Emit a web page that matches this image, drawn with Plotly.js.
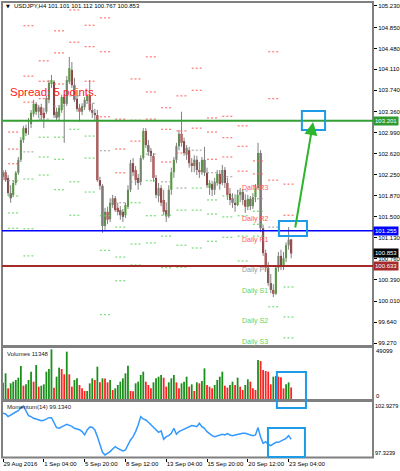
<!DOCTYPE html>
<html><head><meta charset="utf-8">
<script src="https://cdn.plot.ly/plotly-3.0.1.min.js"></script>
<style>html,body{margin:0;padding:0;background:#fff;overflow:hidden}#chart{width:400px;height:471px}</style>
</head><body><div id="chart"></div>
<script>
// ---------------- DATA ----------------
const chartTitle = "USDJPY,H4 101.101 101.112 100.767 100.853";
const spreadText = "Spread: 5 points.";
const volumeLabel = "Volumes 11348";
const momentumLabel = "Momentum(14) 99.1340";
const xTickIdx = [0,16,32,48,64,80,96,112];
const xTickText = ["29 Aug 2016","1 Sep 04:00","5 Sep 20:00","8 Sep 12:00","13 Sep 04:00","15 Sep 20:00","20 Sep 12:00","23 Sep 04:00"];
const priceTicks = [105.230,104.850,104.480,104.110,103.740,103.360,102.990,102.620,102.250,101.870,101.500,101.130,100.760,100.390,100.010,99.640,99.270];

const openP = [102.21,102.29,102.19,101.92,101.89,102.10,102.28,102.51,102.86,103.07,
103.18,103.14,103.32,103.50,103.36,103.44,103.34,103.36,103.57,103.85,
103.89,103.36,103.27,103.39,103.62,103.50,103.89,104.10,103.83,103.59,
103.43,103.36,103.44,103.55,103.64,103.39,103.34,103.30,102.15,102.05,
101.34,101.59,101.46,101.71,101.83,101.66,101.62,101.59,101.53,101.68,
101.98,102.45,102.33,102.19,102.12,102.54,103.02,102.77,102.67,102.58,
102.19,101.87,102.01,101.80,101.62,101.51,101.98,102.29,102.51,102.75,
102.97,102.84,102.60,102.68,102.45,102.40,102.51,102.33,102.29,102.51,
102.28,102.01,102.08,101.98,102.10,102.26,102.10,102.33,102.10,101.91,
101.83,101.75,101.71,101.89,101.94,101.80,101.68,101.82,101.69,101.85,
102.01,102.63,101.30,100.86,100.60,100.33,100.21,100.14,100.60,100.81,
100.63,100.77,101.00,101.101];
const highP = [102.33,102.33,102.24,102.06,102.14,102.31,102.56,102.91,103.11,103.13,
103.25,103.39,103.57,103.53,103.48,103.50,103.43,103.64,103.92,104.01,
103.92,103.43,103.48,103.66,103.67,103.99,104.33,104.24,103.96,103.64,
103.50,103.51,103.62,103.67,103.92,103.51,103.41,103.39,102.21,102.08,
101.66,101.68,101.83,101.89,101.87,101.75,101.69,101.64,101.75,102.06,
102.51,102.54,102.40,102.26,102.59,103.07,103.07,102.86,102.72,102.63,
102.24,102.10,102.06,101.98,101.76,102.06,102.37,102.56,102.81,103.04,
103.36,102.90,102.77,102.74,102.54,102.59,102.58,102.47,102.56,102.74,
102.37,102.15,102.14,102.19,102.33,102.33,102.42,102.38,102.19,102.01,
101.92,101.90,101.98,102.01,101.99,101.90,101.89,101.87,101.92,102.08,
102.81,102.68,101.36,100.92,100.70,100.49,100.31,100.65,100.88,100.92,
100.88,101.05,101.32,101.112];
const lowP = [102.15,102.12,101.87,101.75,101.85,102.06,102.24,102.47,102.81,102.93,
102.95,103.07,103.27,103.30,103.25,103.21,103.07,103.32,103.51,103.78,
103.25,103.21,103.21,103.34,102.81,103.46,103.85,103.78,103.53,103.36,
103.18,103.30,103.39,103.50,103.36,103.25,103.21,102.12,101.98,101.22,
101.27,101.37,101.41,101.66,101.59,101.53,101.45,101.41,101.48,101.64,
101.94,102.22,102.06,101.98,102.06,102.51,102.72,102.58,102.47,102.12,
101.83,101.76,101.69,101.53,101.41,101.48,101.89,102.19,102.45,102.68,
102.74,102.58,102.51,102.37,102.29,102.29,102.24,102.19,102.24,102.22,
102.01,101.89,101.87,101.89,102.05,101.98,102.06,102.01,101.80,101.71,
101.66,101.59,101.69,101.76,101.71,101.57,101.62,101.62,101.64,101.76,
101.98,101.23,100.81,100.53,100.28,100.15,100.08,100.12,100.53,100.56,
100.56,100.70,100.92,100.767];
const closeP = [102.29,102.15,101.92,101.83,102.10,102.28,102.51,102.86,103.07,102.98,
103.18,103.34,103.50,103.36,103.44,103.30,103.25,103.60,103.87,103.92,
103.30,103.25,103.43,103.62,103.50,103.92,104.13,103.83,103.57,103.41,
103.36,103.46,103.57,103.64,103.39,103.34,103.30,102.15,102.05,101.34,
101.59,101.45,101.75,101.83,101.62,101.59,101.53,101.50,101.71,101.98,
102.45,102.29,102.15,102.10,102.54,103.02,102.77,102.65,102.58,102.19,
101.89,102.01,101.75,101.59,101.51,101.98,102.29,102.51,102.75,102.97,
102.81,102.63,102.72,102.45,102.40,102.51,102.33,102.29,102.51,102.28,
102.06,102.10,101.98,102.12,102.26,102.08,102.33,102.10,101.89,101.80,
101.75,101.71,101.89,101.94,101.80,101.68,101.82,101.69,101.85,102.01,
102.63,101.30,100.86,100.60,100.33,100.21,100.14,100.60,100.81,100.63,
100.77,101.00,101.10,100.853];

const volumes = [16038,25202,10474,15383,17020,18656,20947,32403,13092,14401,
18656,26839,17020,33385,12110,13092,14401,26839,29457,48768,
11128,21929,30766,29457,24220,46477,24220,12110,18656,20293,
13747,10474,7855,7900,15383,20293,18656,31748,16365,20293,
20100,16365,18656,8837,10474,13747,17020,20293,25202,32730,
7855,7700,15383,17020,23566,26839,17020,13747,10474,16365,
20293,21929,23566,20947,12110,16365,20293,23566,16365,10474,
15383,17020,21929,12110,14401,7855,16365,15383,17674,30112,
13747,12110,10474,13747,18656,21929,26839,13092,11128,13747,
17020,13747,20947,12110,8837,13747,19311,17020,10474,8837,
38294,37312,28475,27493,26839,14401,21929,22584,21929,21275,
10474,14401,16365,11348];

const momentum = [101.78,101.71,101.44,101.57,101.74,101.91,102.05,102.35,102.52,101.94,
101.54,101.44,101.27,101.20,101.10,101.03,101.06,101.20,101.33,101.33,
100.86,100.32,100.25,100.42,100.52,100.66,100.59,100.45,100.25,100.18,
100.11,99.91,99.57,100.08,100.38,100.35,100.08,99.40,98.55,97.80,
97.53,97.70,97.87,98.14,98.38,98.21,98.11,97.94,98.04,98.55,
99.06,99.40,99.91,100.59,101.44,101.20,101.10,100.86,100.59,100.32,
100.08,99.84,99.98,99.13,99.40,99.50,99.74,100.25,99.64,99.91,
100.04,100.18,100.32,100.38,100.52,100.49,100.42,100.76,100.42,100.25,
99.91,99.71,99.50,99.40,99.50,99.57,99.64,99.57,99.71,99.57,
99.50,99.57,99.64,99.71,99.74,99.74,99.67,99.57,99.50,99.57,
100.32,99.37,98.72,98.89,98.62,98.48,98.69,98.82,98.82,98.96,
99.06,99.23,99.50,99.134];

const dayStart = [3,9,15,21,27,33,39,45,51,57,63,69,75,81,87,93,99,105,111];
const pivR3 = [103.00,104.88,104.26,104.79,106.10,104.89,105.02,103.23,103.94,104.33,103.43,103.64,104.13,103.25,103.28,103.11,102.49,104.42,102.08];
const pivR2 = [102.70,103.99,103.90,104.40,105.16,104.51,104.42,102.70,103.21,103.71,103.05,103.02,103.74,103.00,102.90,102.75,102.26,103.59,101.53];
const pivR1 = [102.44,103.53,103.59,103.85,104.59,103.90,103.27,102.28,102.84,103.23,102.47,102.63,103.07,102.52,102.56,102.31,102.05,102.15,101.16];
const pivPP = [102.14,102.65,103.23,103.46,103.64,103.51,102.67,101.75,102.12,102.61,102.12,102.01,102.68,102.28,102.21,101.96,101.82,101.32,100.63];
const pivS1 = [101.87,102.17,102.91,102.91,103.05,102.93,101.52,101.32,101.75,102.14,101.53,101.62,102.01,101.80,101.87,101.52,101.60,99.91,100.26];
const pivS2 = [101.57,101.29,102.56,102.52,102.12,102.54,100.91,100.79,101.02,101.52,101.16,101.00,101.62,101.55,101.50,101.16,101.37,99.08,99.73];
const pivS3 = [101.30,100.81,102.24,101.98,101.53,101.94,99.77,100.37,100.65,101.04,100.60,100.61,100.95,101.07,101.14,100.72,101.16,97.66,99.36];
const pivNames = ["Daily R3","Daily R2","Daily R1","Daily PP","Daily S1","Daily S2","Daily S3"];

const levelPrices = [103.201, 101.255, 100.633];
const lastPrice = 100.853;
const volScaleMax = 49099;
const momScaleMax = 102.9279;
const momScaleMin = 97.3239;

// ---------------- LAYOUT HELPERS ----------------
const W = 400, H = 471, ML = 2, MR = 27, MT = 2, MB = 13;
const PW = W - ML - MR, PH = H - MT - MB;
const py = y => (H - MB - y) / PH;     // pixel row -> paper
const BARPX = 2.55;                     // pixel spacing of bars
const X0 = -0.4;
const xRange = [X0, X0 + PW / BARPX];
const priceAt = y => 105.336 - 0.017685 * y;  // pixel row -> price for main pane
const momPerPx = (momScaleMax - momScaleMin) / 55;

const font = "Liberation Sans, Arial, sans-serif";
const idx = openP.map((_, i) => i);

// wicks
const wx = [], wy = [];
idx.forEach(i => { wx.push(i, i, null); wy.push(lowP[i], highP[i], null); });
const bodyBase = idx.map(i => Math.min(openP[i], closeP[i]));
const bodyH = idx.map(i => Math.max(Math.abs(closeP[i] - openP[i]), 0.006));
const bodyCol = idx.map(i => closeP[i] >= openP[i] ? '#3f9b22' : '#8b1010');
const volCol = volumes.map((v, i) => (i > 0 && v > volumes[i - 1]) ? '#1a8f1a' : '#ff2020');

const traces = [];
traces.push({type: 'scatter', mode: 'lines', x: wx, y: wy, xaxis: 'x', yaxis: 'y',
  line: {color: '#808080', width: 1}, hoverinfo: 'skip', showlegend: false});
traces.push({type: 'bar', x: idx, y: bodyH, base: bodyBase, xaxis: 'x', yaxis: 'y', width: 0.8,
  marker: {color: bodyCol, line: {width: 0}}, hoverinfo: 'skip', showlegend: false});

const pivSets = [pivR3, pivR2, pivR1, pivPP, pivS1, pivS2, pivS3];
const pivCols = ['#ff5a5a', '#ff5a5a', '#ff5a5a', '#9a9a9a', '#5fd35f', '#5fd35f', '#5fd35f'];
pivSets.forEach((arr, k) => {
  const px_ = [], py_ = [];
  dayStart.forEach((s, d) => { px_.push(s - 1, s + 3, null); py_.push(arr[d], arr[d], null); });
  traces.push({type: 'scatter', mode: 'lines', x: px_, y: py_, xaxis: 'x', yaxis: 'y',
    line: {color: pivCols[k], width: 1, dash: '2px,2px'}, hoverinfo: 'skip', showlegend: false});
});

traces.push({type: 'bar', x: idx, y: volumes, xaxis: 'x', yaxis: 'y2', width: 0.7,
  marker: {color: volCol, line: {width: 0}}, hoverinfo: 'skip', showlegend: false});
traces.push({type: 'scatter', mode: 'lines', x: idx, y: momentum, xaxis: 'x', yaxis: 'y3',
  line: {color: '#3399ff', width: 1.5}, hoverinfo: 'skip', showlegend: false});

const frame = {color: '#808080', width: 2};
const shapes = [
  {type: 'rect', xref: 'paper', yref: 'paper', x0: 0, x1: 1, y0: py(346), y1: py(2), line: frame},
  {type: 'rect', xref: 'paper', yref: 'paper', x0: 0, x1: 1, y0: py(400), y1: py(347), line: frame},
  {type: 'rect', xref: 'paper', yref: 'paper', x0: 0, x1: 1, y0: py(457.5), y1: py(401), line: frame},
];
const levelCols = ['#33a033', '#0000ff', '#a52a2a'];
const levelW = [2, 1.5, 2];
levelPrices.forEach((p, k) => shapes.push({type: 'line', xref: 'paper', yref: 'y', x0: 0, x1: 1, y0: p, y1: p,
  line: {color: levelCols[k], width: levelW[k]}}));
const boxLine = {color: '#1e9be6', width: 2};
shapes.push({type: 'rect', xref: 'x', yref: 'y', x0: 117.2, x1: 126.3, y0: priceAt(130), y1: priceAt(111), line: boxLine});
shapes.push({type: 'rect', xref: 'x', yref: 'y', x0: 108.2, x1: 119.2, y0: priceAt(236), y1: priceAt(221), line: boxLine});
shapes.push({type: 'rect', xref: 'x', yref: 'paper', x0: 107.4, x1: 118.8, y0: py(408), y1: py(372), line: boxLine});
shapes.push({type: 'rect', xref: 'x', yref: 'y3', x0: 103.9, x1: 118.4,
  y0: momScaleMax - 55 * momPerPx, y1: momScaleMax - 26 * momPerPx, line: boxLine});

const ann = [];
const txt = (text, x, y, opts) => Object.assign({text, x, y, xref: 'paper', yref: 'paper', showarrow: false,
  xanchor: 'left', yanchor: 'middle', font: {family: font, size: 6, color: '#000'}}, opts || {});
ann.push(txt('▼', 0.006, py(6.5), {font: {family: 'DejaVu Sans', size: 5, color: '#000'}}));
ann.push(txt(chartTitle, 0.027, py(6.5)));
ann.push(txt(spreadText, 0.016, py(92), {font: {family: font, size: 11.5, color: '#ff2020'}}));
ann.push(txt(volumeLabel, 0.008, py(353.5), {font: {family: font, size: 6, color: '#222'}}));
ann.push(txt(momentumLabel, 0.008, py(407), {font: {family: font, size: 6, color: '#222'}}));
ann.push(txt(String(volScaleMax), 1, py(350.5), {xshift: 1}));
ann.push(txt('0', 1, py(396), {xshift: 1}));
ann.push(txt(momScaleMax.toFixed(4), 1, py(405.5), {xshift: 0, font: {family: font, size: 5.6, color: '#000'}}));
ann.push(txt(momScaleMin.toFixed(4), 1, py(453), {xshift: 0, font: {family: font, size: 5.6, color: '#000'}}));

const boxBg = ['#2f9a2f', '#0000ff', '#000000', '#a52a2a'];
[levelPrices[0], levelPrices[1], lastPrice, levelPrices[2]].forEach((p, k) => {
  ann.push({text: p.toFixed(3), x: 1, y: p, xref: 'paper', yref: 'y', showarrow: false,
    xanchor: 'left', yanchor: 'middle', xshift: 0, bgcolor: boxBg[k], borderpad: 1,
    font: {family: font, size: 6, color: '#fff'}});
});

const lastDay = dayStart.length - 1;
pivSets.forEach((arr, k) => {
  ann.push({text: pivNames[k], x: 93, y: arr[lastDay], xref: 'x', yref: 'y', showarrow: false,
    xanchor: 'left', yanchor: 'middle', yshift: -4,
    font: {family: font, size: 7, color: pivCols[k]}});
});

ann.push({text: '', x: 121.6, y: priceAt(122), xref: 'x', yref: 'y',
  ax: 114.5, ay: priceAt(229), axref: 'x', ayref: 'y', showarrow: true,
  arrowhead: 2, arrowsize: 1.3, arrowwidth: 2, arrowcolor: '#2db52d'});

const layout = {
  width: W, height: H, margin: {l: ML, r: MR, t: MT, b: MB, pad: 0},
  paper_bgcolor: '#fff', plot_bgcolor: '#fff', showlegend: false, barmode: 'overlay',
  font: {family: font, size: 6, color: '#000'},
  xaxis: {domain: [0, 1], range: xRange, anchor: 'y3', showgrid: false, zeroline: false, showline: false,
    tickmode: 'array', tickvals: xTickIdx, ticktext: xTickText, ticks: 'outside', ticklen: 3,
    tickangle: 0, automargin: false,
    tickcolor: '#000', tickfont: {family: font, size: 6, color: '#000'}, ticklabelposition: 'outside right',
    fixedrange: true},
  yaxis: {domain: [py(346), py(2)], range: [priceAt(346), priceAt(2)], side: 'right', anchor: 'x',
    showgrid: false, zeroline: false, showline: false, tickmode: 'array', tickvals: priceTicks,
    ticktext: priceTicks.map(v => v.toFixed(3)), ticks: 'outside', ticklen: 3, tickcolor: '#000',
    automargin: false, tickfont: {family: font, size: 6, color: '#000'}, fixedrange: true},
  yaxis2: {domain: [py(400), py(348)], range: [-volScaleMax / 50, volScaleMax * 51 / 50], anchor: 'x',
    showgrid: false, zeroline: false, showline: false, showticklabels: false, ticks: '', fixedrange: true},
  yaxis3: {domain: [0, py(402)], range: [momScaleMax - 56 * momPerPx, momScaleMax], anchor: 'x',
    showgrid: false, zeroline: false, showline: false, showticklabels: false, ticks: '', fixedrange: true},
  shapes: shapes, annotations: ann
};
Plotly.newPlot('chart', traces, layout, {staticPlot: true, displayModeBar: false});
</script></body></html>
